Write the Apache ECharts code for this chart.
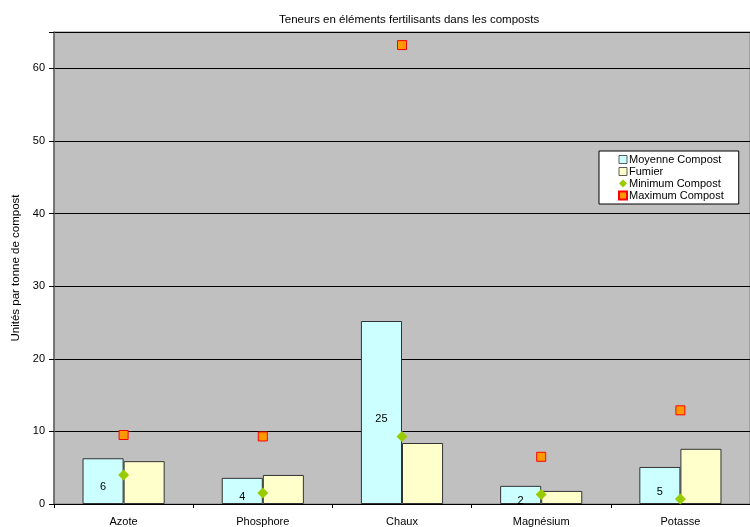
<!DOCTYPE html>
<html><head><meta charset="utf-8">
<script src="https://cdn.jsdelivr.net/npm/echarts@6/dist/echarts.min.js"></script>
<style>html,body{margin:0;padding:0;background:#fff}#c{width:750px;height:527px}</style>
</head><body><div id="c"></div>
<script>
const categories = ['Azote', 'Phosphore', 'Chaux', 'Magnésium', 'Potasse'];
const moyenne = [6.3, 3.6, 25.2, 2.5, 5.1];
const moyenneLabels = ['6', '4', '25', '2', '5'];
const fumier = [5.9, 4.0, 8.4, 1.8, 7.6];
const minimum = [4.0, 1.5, 9.3, 1.3, 0.7];
const maximum = [9.5, 9.3, 63.2, 6.5, 12.9];
const yTicks = [0, 10, 20, 30, 40, 50, 60];

const font = 'Liberation Sans, Arial, sans-serif';
const chart = echarts.init(document.getElementById('c'));
chart.setOption({
  animation: false,
  backgroundColor: '#fff',
  title: {
    text: 'Teneurs en éléments fertilisants dans les composts',
    left: 279, top: 14, padding: 0,
    textStyle: {fontFamily: font, fontSize: 11.5, fontWeight: 'normal', color: '#000'}
  },
  legend: {
    orient: 'vertical', left: 599, top: 151,
    backgroundColor: '#fff', borderColor: '#000', borderWidth: 1,
    padding: [3, 15, 3, 19], itemGap: 1, itemWidth: 8, itemHeight: 8,
    textStyle: {fontFamily: font, fontSize: 11, color: '#000', padding: [0, 0, 0, -3]},
    data: [
      {name: 'Moyenne Compost', icon: 'rect', itemStyle: {borderWidth: 0.8}},
      {name: 'Fumier', icon: 'rect', itemStyle: {borderWidth: 0.8}},
      {name: 'Minimum Compost', icon: 'diamond'},
      {name: 'Maximum Compost', icon: 'rect'}
    ]
  },
  grid: {
    left: 54, right: 0, top: 32, bottom: 23, show: true,
    backgroundColor: '#C0C0C0', borderColor: '#808080', borderWidth: 1
  },
  xAxis: {
    type: 'category', data: categories,
    axisLine: {lineStyle: {color: '#000', width: 1}},
    axisTick: {show: true, length: 4, lineStyle: {color: '#000'}},
    axisLabel: {fontFamily: font, fontSize: 11, color: '#000', margin: 12}
  },
  yAxis: {
    type: 'value', min: 0, max: 65, interval: 10,
    name: 'Unités par tonne de compost', nameLocation: 'middle', nameGap: 30,
    nameTextStyle: {fontFamily: font, fontSize: 11.5, color: '#000'},
    axisLine: {show: true, lineStyle: {color: '#606060', width: 1.5}},
    axisTick: {show: true, length: 5, lineStyle: {color: '#000'}},
    axisLabel: {fontFamily: font, fontSize: 11, color: '#000', margin: 9,
      formatter: v => yTicks.includes(v) ? String(v) : ''},
    splitLine: {show: true, lineStyle: {color: '#000', width: 1}}
  },
  series: [
    {
      name: 'Moyenne Compost', type: 'bar', data: moyenne,
      barGap: '0%', barCategoryGap: '41%',
      itemStyle: {color: '#CCFFFF', borderColor: '#333', borderWidth: 1},
      label: {show: true, position: 'inside', offset: [0, 6],
        fontFamily: font, fontSize: 11, color: '#000',
        formatter: p => moyenneLabels[p.dataIndex]}
    },
    {
      name: 'Fumier', type: 'bar', data: fumier,
      itemStyle: {color: '#FFFFCC', borderColor: '#333', borderWidth: 1}
    },
    {
      name: 'Minimum Compost', type: 'line', data: minimum,
      symbol: 'diamond', symbolSize: 11, lineStyle: {width: 0, opacity: 0},
      itemStyle: {color: '#99CC00', borderWidth: 0}, z: 5
    },
    {
      name: 'Maximum Compost', type: 'line', data: maximum,
      symbol: 'rect', symbolSize: 9, lineStyle: {width: 0, opacity: 0},
      itemStyle: {color: '#FF9900', borderColor: '#FF0000', borderWidth: 1}, z: 5
    }
  ]
});
</script></body></html>
